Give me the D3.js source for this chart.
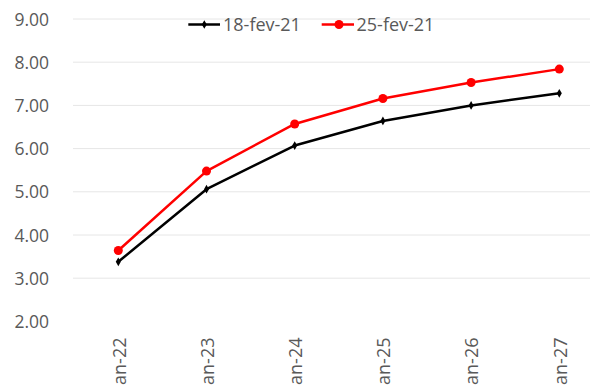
<!DOCTYPE html>
<html>
<head>
<meta charset="utf-8">
<script src="https://cdn.jsdelivr.net/npm/d3@7"></script>
<style>
  html, body { margin: 0; padding: 0; background: #fff; }
  svg { display: block; }
  text { font-family: "Open Sans", "Noto Sans", sans-serif; fill: #595959; }
</style>
</head>
<body>
<svg id="chart" width="590" height="385"></svg>
<script>
// Rate curve by maturity, two reference dates
const categories = ["jan-22", "jan-23", "jan-24", "jan-25", "jan-26", "jan-27"];
const seriesNames = ["18-fev-21", "25-fev-21"];
const values18 = [3.38, 5.06, 6.07, 6.64, 7.00, 7.28];
const values25 = [3.64, 5.48, 6.57, 7.16, 7.53, 7.84];
const yTicks = [2, 3, 4, 5, 6, 7, 8, 9];

const svg = d3.select("#chart");
const W = 590, H = 385;
const plot = { left: 74.2, right: 603.4, top: 19, bottom: 321.4 };

const x = d3.scalePoint().domain(categories).range([plot.left, plot.right]).padding(0.5);
const y = d3.scaleLinear().domain([2, 9]).range([plot.bottom, plot.top]);

// Horizontal gridlines (none at the base value)
svg.append("g")
  .selectAll("line")
  .data(yTicks.filter(d => d > 2))
  .join("line")
  .attr("x1", 73).attr("x2", W)
  .attr("y1", d => y(d)).attr("y2", d => y(d))
  .attr("stroke", "#e6e6e6").attr("stroke-width", 1);

// Y axis labels
const yAxis = d3.axisLeft(y).tickValues(yTicks).tickFormat(d3.format(".2f")).tickSize(0).tickPadding(0);
const gy = svg.append("g").attr("transform", "translate(49,0)").call(yAxis);
gy.select(".domain").remove();
gy.selectAll("text")
  .attr("font-size", 17.5)
  .attr("font-family", "'Open Sans', sans-serif")
  .attr("fill", "#595959")
  .attr("dy", "0.35em");

// X axis labels, rotated; they run past the bottom edge of the canvas
const xAxis = d3.axisBottom(x).tickSize(0).tickPadding(0);
const gx = svg.append("g").attr("transform", "translate(0,337.5)").call(xAxis);
gx.select(".domain").remove();
gx.selectAll("text")
  .attr("font-size", 18)
  .attr("font-family", "'Open Sans', sans-serif")
  .attr("fill", "#595959")
  .attr("text-anchor", "end")
  .attr("transform", "rotate(-90)")
  .attr("x", 0)
  .attr("y", 0)
  .attr("dy", "0.38em");

const line = d3.line().x((d, i) => x(categories[i])).y(d => y(d));

// Series 18-fev-21: black with small diamonds
svg.append("path").datum(values18)
  .attr("d", line).attr("fill", "none")
  .attr("stroke", "#000").attr("stroke-width", 2.5).attr("stroke-linejoin", "round");
const diamond = d3.symbol().type(d3.symbolDiamond).size(22);
svg.append("g").selectAll("path").data(values18).join("path")
  .attr("d", diamond)
  .attr("transform", (d, i) => `translate(${x(categories[i])},${y(d)})`)
  .attr("fill", "#000");

// Series 25-fev-21: red with round markers
svg.append("path").datum(values25)
  .attr("d", line).attr("fill", "none")
  .attr("stroke", "#ff0000").attr("stroke-width", 2.5).attr("stroke-linejoin", "round");
svg.append("g").selectAll("circle").data(values25).join("circle")
  .attr("cx", (d, i) => x(categories[i]))
  .attr("cy", d => y(d))
  .attr("r", 4.5)
  .attr("fill", "#ff0000");

// Legend
const legend = svg.append("g").attr("transform", "translate(0,24.5)");
const l1 = legend.append("g");
l1.append("line").attr("x1", 188.3).attr("x2", 220).attr("y1", 0).attr("y2", 0)
  .attr("stroke", "#000").attr("stroke-width", 2.5);
l1.append("path").attr("d", diamond).attr("transform", "translate(204.3,0)").attr("fill", "#000");
l1.append("text").attr("x", 223).attr("y", 0).attr("dy", "0.35em").attr("font-size", 18).text(seriesNames[0]);

const l2 = legend.append("g");
l2.append("line").attr("x1", 321.7).attr("x2", 354).attr("y1", 0).attr("y2", 0)
  .attr("stroke", "#ff0000").attr("stroke-width", 2.5);
l2.append("circle").attr("cx", 339).attr("cy", 0).attr("r", 4.5).attr("fill", "#ff0000");
l2.append("text").attr("x", 356.5).attr("y", 0).attr("dy", "0.35em").attr("font-size", 18).text(seriesNames[1]);
</script>
</body>
</html>
